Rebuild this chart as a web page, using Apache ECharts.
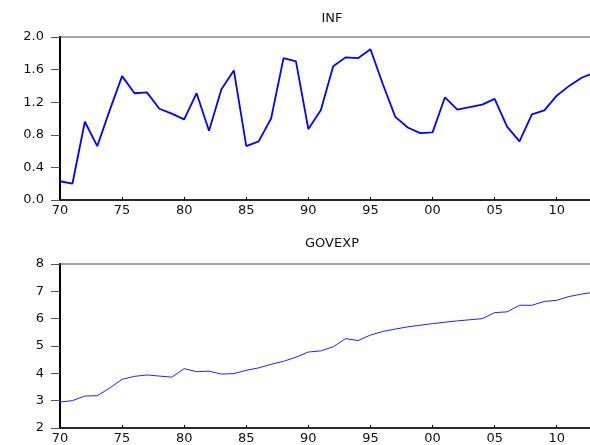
<!DOCTYPE html>
<html>
<head>
<meta charset="utf-8">
<script src="https://cdn.jsdelivr.net/npm/echarts@6/dist/echarts.min.js"></script>
<style>
html,body{margin:0;padding:0;background:#fff;overflow:hidden;width:590px;height:445px;}
#c{width:600px;height:445px;}
</style>
</head>
<body>
<div id="c"></div>
<script>
const years = [];
for (let y = 1970; y <= 2013; y++) years.push(String(y));

const infValues = [0.23,0.20,0.96,0.66,1.10,1.52,1.31,1.32,1.12,1.06,
                   0.99,1.31,0.85,1.36,1.59,0.66,0.72,1.00,1.74,1.70,
                   0.87,1.10,1.64,1.75,1.74,1.85,1.42,1.02,0.89,0.82,
                   0.83,1.26,1.11,1.14,1.17,1.24,0.90,0.72,1.05,1.10,
                   1.28,1.40,1.50,1.56];

const govexpValues = [2.95,3.00,3.17,3.18,3.46,3.78,3.89,3.94,3.90,3.86,
                      4.17,4.06,4.08,3.97,3.99,4.11,4.20,4.33,4.44,4.59,
                      4.78,4.82,4.97,5.27,5.20,5.40,5.53,5.62,5.70,5.76,
                      5.82,5.87,5.92,5.96,6.00,6.22,6.25,6.49,6.49,6.63,
                      6.67,6.81,6.90,6.97];

const titles = ['INF', 'GOVEXP'];
const FONT = 'DejaVu Sans';

const chart = echarts.init(document.getElementById('c'), null, {renderer: 'canvas'});

function xAxisFor(gi) {
  return {
    type: 'category', gridIndex: gi, data: years, boundaryGap: false,
    axisLine: {lineStyle: {color: '#000', width: 1.5}},
    axisTick: {show: true, inside: true, length: 3, interval: function(i){return i % 5 === 0;}, lineStyle: {color: '#000'}},
    axisLabel: {
      interval: function(i){return i % 5 === 0;},
      formatter: function(v){return v.slice(2);},
      color: '#111', fontFamily: FONT, fontSize: 13, margin: 4
    },
    splitLine: {show: false}
  };
}
function yAxisFor(gi, min, max, interval, dec) {
  return {
    type: 'value', gridIndex: gi, min: min, max: max, interval: interval,
    axisLine: {show: true, lineStyle: {color: '#000', width: 2}},
    axisTick: {show: true, length: 9, lineStyle: {color: '#555'}},
    axisLabel: {formatter: function(v){return v.toFixed(dec);}, color: '#111', fontFamily: FONT, fontSize: 13, margin: 16},
    splitLine: {show: false}
  };
}

chart.setOption({
  animation: false,
  backgroundColor: '#fff',
  title: [
    {text: titles[0], left: 327, top: 7, textAlign: 'center', textStyle: {fontFamily: FONT, fontSize: 13, fontWeight: 'normal', color: '#111'}},
    {text: titles[1], left: 327, top: 232, textAlign: 'center', textStyle: {fontFamily: FONT, fontSize: 13, fontWeight: 'normal', color: '#111'}}
  ],
  grid: [
    {left: 60, top: 37, width: 534, height: 163, show: true, borderColor: '#888', borderWidth: 1.5, backgroundColor: 'transparent'},
    {left: 60, top: 264, width: 534, height: 164, show: true, borderColor: '#888', borderWidth: 1.5, backgroundColor: 'transparent'}
  ],
  xAxis: [xAxisFor(0), xAxisFor(1)],
  yAxis: [yAxisFor(0, 0, 2, 0.4, 1), yAxisFor(1, 2, 8, 1, 0)],
  series: [
    {type: 'line', xAxisIndex: 0, yAxisIndex: 0, data: infValues, showSymbol: false, lineStyle: {color: '#0000ff', width: 1.8}},
    {type: 'line', xAxisIndex: 1, yAxisIndex: 1, data: govexpValues, showSymbol: false, lineStyle: {color: '#2222ff', width: 1}}
  ]
});
</script>
</body>
</html>
